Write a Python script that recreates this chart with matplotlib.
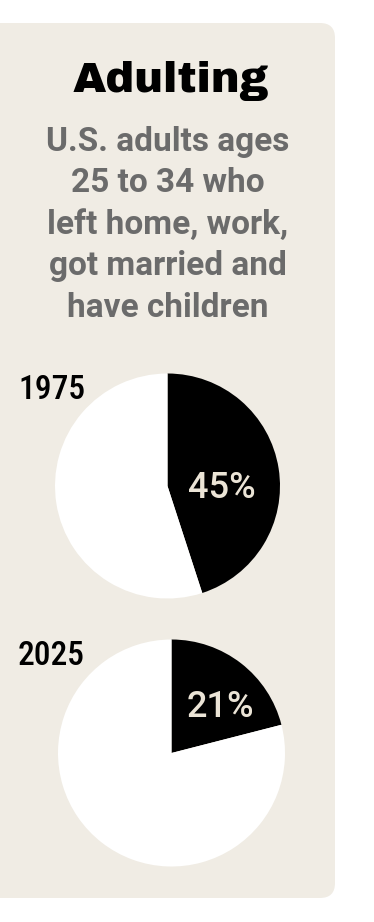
import matplotlib
matplotlib.use('Agg')
import matplotlib.pyplot as plt
from matplotlib.patches import FancyBboxPatch

# data
years = ['1975', '2025']
shares = [45, 21]   # % who hit all four milestones

title = 'Adulting'
subtitle = ['U.S. adults ages', '25 to 34 who', 'left home, work,',
            'got married and', 'have children']

W, H = 374, 922
bg_panel = '#f0ece4'
cream = '#ebe4d6'

fig = plt.figure(figsize=(W / 100, H / 100), dpi=100)
ax = fig.add_axes([0, 0, 1, 1])

def Y(y):
    # pixel row from top -> data y
    return H - y

panel = FancyBboxPatch((-20, Y(898)), 355, 898 - 23, boxstyle='round,pad=0,rounding_size=15',
                       fc=bg_panel, ec='none', zorder=0)
ax.add_patch(panel)

ax.text(171, Y(92), title, ha='center', va='baseline', fontsize=31,
        family='Archivo Black', color='black')

for i, line in enumerate(subtitle):
    ax.text(168, Y(151 + 41.5 * i), line, ha='center', va='baseline', fontsize=24,
            family='Roboto', weight='bold', color='#6b6b6b')

# pie positions (pixels), radius
centers = [(167.5, 486), (171.5, 753)]
radii = [112.5, 113.5]
year_base = [399, 665]
lbl_pos = [(222, 498), (220, 717)]

for k in range(2):
    cx, cy = centers[k]
    ax.pie([shares[k], 100 - shares[k]], colors=['black', 'white'], startangle=90,
           counterclock=False, center=(cx, Y(cy)), radius=radii[k], frame=True,
           wedgeprops=dict(linewidth=0))
    ax.text(18, Y(year_base[k]), years[k], ha='left', va='baseline', fontsize=24,
            family='Roboto Condensed', weight='medium', color='black')
    ax.text(lbl_pos[k][0], Y(lbl_pos[k][1]), '%d%%' % shares[k], ha='center',
            va='baseline', fontsize=26, family='Roboto', weight='medium',
            color=cream)

ax.set_xlim(0, W)
ax.set_ylim(0, H)
ax.axis('off')

fig.savefig('out.png', dpi=100, facecolor='white')
